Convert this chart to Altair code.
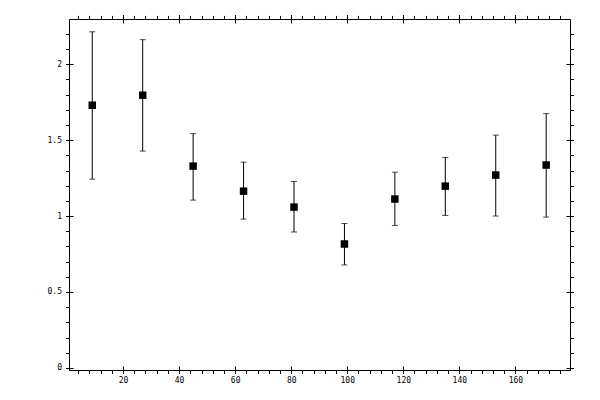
import altair as alt
import pandas as pd

# data
xs = [9, 27, 45, 63, 81, 99, 117, 135, 153, 171]
means = [1.730, 1.796, 1.329, 1.164, 1.059, 0.816, 1.112, 1.197, 1.270, 1.336]
lows = [1.243, 1.428, 1.105, 0.980, 0.895, 0.678, 0.938, 1.004, 1.000, 0.993]
highs = [2.214, 2.162, 1.543, 1.355, 1.228, 0.951, 1.289, 1.386, 1.533, 1.675]

x_major = [20, 40, 60, 80, 100, 120, 140, 160]
x_minor = [4, 8, 12, 16, 20, 24, 28, 32, 36, 40, 44, 48, 52, 56, 60, 64, 68, 72, 76,
           80, 84, 88, 92, 96, 100, 104, 108, 112, 116, 120, 124, 128, 132, 136, 140,
           144, 148, 152, 156, 160, 164, 168, 172, 176]
y_major = [0, 0.5, 1, 1.5, 2]
y_minor = [0, 0.1, 0.2, 0.3, 0.4, 0.5, 0.6, 0.7, 0.8, 0.9, 1.0, 1.1, 1.2, 1.3, 1.4,
           1.5, 1.6, 1.7, 1.8, 1.9, 2.0, 2.1, 2.2]

df = pd.DataFrame({"x": xs, "m": means, "lo": lows, "hi": highs})

FONT = "DejaVu Sans Mono"
xscale = alt.Scale(domain=[0.7, 179.5], nice=False, zero=False)
yscale = alt.Scale(domain=[-0.014, 2.298], nice=False, zero=False)


def ax(orient, values, size, offset=0, labels=False, pad=3, domain=False):
    kw = dict(orient=orient, values=values, tickSize=size, offset=offset,
              labels=labels, domain=domain, grid=False, title=None,
              ticks=True, tickColor="black", tickWidth=1)
    if domain:
        kw.update(domainColor="black", domainWidth=1)
    if labels:
        kw.update(labelFont=FONT, labelFontSize=8, labelColor="black",
                  labelPadding=pad, labelOverlap=False, labelFlush=False,
                  labelExpr="datum.value + ''")
    return alt.Axis(**kw)


base = alt.Chart(df)

rules = base.mark_rule(color="black", strokeWidth=1).encode(
    x=alt.X("x:Q", scale=xscale, axis=ax("bottom", x_major, 7.5, -4, True, 3)),
    y=alt.Y("lo:Q", scale=yscale, axis=ax("left", y_major, 7.5, -4, True, 4)),
    y2="hi:Q",
)

caps_lo = base.mark_tick(color="black", orient="horizontal", size=6, thickness=1).encode(
    x=alt.X("x:Q", scale=xscale, axis=ax("bottom", x_minor, 3.5, domain=True)),
    y=alt.Y("lo:Q", scale=yscale, axis=ax("left", y_minor, 3.5, domain=True)),
)

caps_hi = base.mark_tick(color="black", orient="horizontal", size=6, thickness=1).encode(
    x=alt.X("x:Q", scale=xscale, axis=ax("top", x_major, 8.5, -4)),
    y=alt.Y("hi:Q", scale=yscale, axis=ax("right", y_major, 7.5, -4)),
)

points = base.mark_square(color="black", size=56, opacity=1).encode(
    x=alt.X("x:Q", scale=xscale, axis=ax("top", x_minor, 3.6, domain=True)),
    y=alt.Y("m:Q", scale=yscale, axis=ax("right", y_minor, 3.5, domain=True)),
)

chart = (
    alt.layer(rules, caps_lo, caps_hi, points)
    .resolve_axis(x="independent", y="independent")
    .properties(
        width=501,
        height=351,
        autosize=alt.AutoSizeParams(type="none"),
        padding={"left": 61, "top": 11, "right": 20, "bottom": 22},
    )
    .configure_view(strokeWidth=0)
    .configure(background="white")
)

chart.save("out.html", embed_options={"renderer": "svg", "actions": False})
